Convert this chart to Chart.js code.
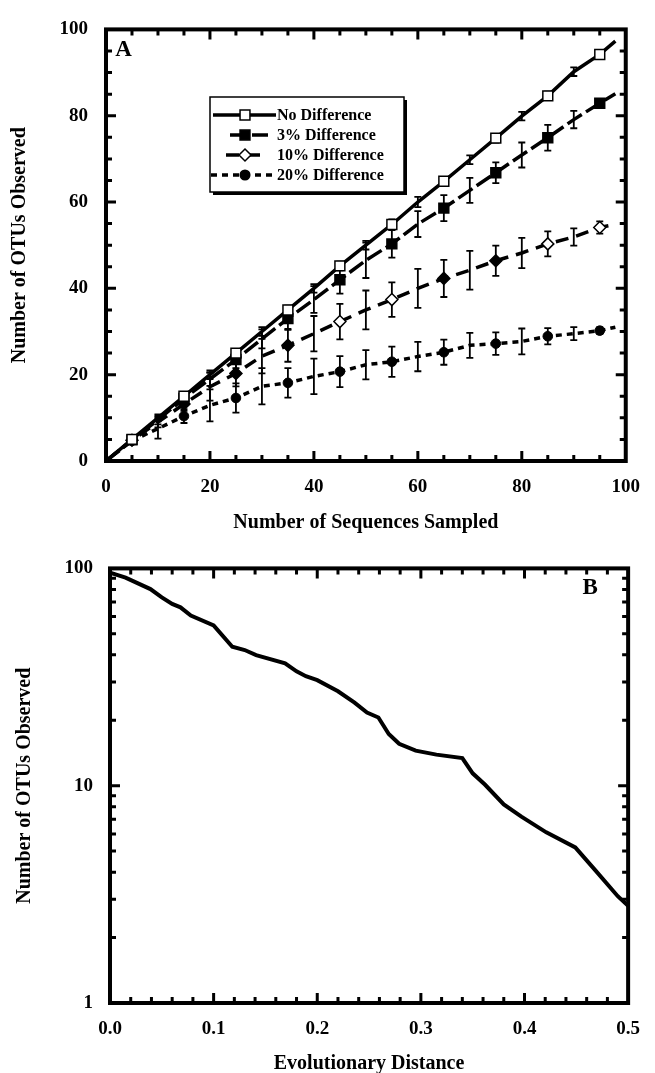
<!DOCTYPE html>
<html>
<head>
<meta charset="utf-8">
<title>OTUs observed</title>
<script src="https://cdn.jsdelivr.net/npm/chart.js@4.4.0/dist/chart.umd.min.js"></script>
<style>
    html, body { margin: 0; padding: 0; background: #fff; overflow: hidden; }
    canvas { display: block; position: absolute; left: 0; }
    #chartA { top: 0; }
    #chartB { top: 540px; }
</style>
</head>
<body>
<canvas id="chartA" width="655" height="540"></canvas>
<canvas id="chartB" width="655" height="550"></canvas>
<script>
// --- Panel A: OTUs vs. sequences sampled ---
const sampled = [0, 5, 10, 15, 20, 25, 30, 35, 40, 45, 50, 55, 60, 65, 70, 75, 80, 85, 90, 95, 98];

const noDiff    = [0, 5, 10, 15, 20, 25, 30, 35, 40, 45.2, 50, 54.8, 60, 64.8, 69.8, 74.8, 79.9, 84.6, 90.2, 94.2, 97.3];
const noDiffErr = [0, 0.5, 0.8, 0.8, 1, 1, 1, 1, 1, 1, 1, 1.2, 1.2, 1, 1, 1, 1, 1, 1, 0.8, 0];

const pct3      = [0, 4.9, 9.5, 14.5, 19, 23.5, 28.3, 33, 37.4, 42, 46.5, 50.3, 54.9, 58.6, 62.7, 66.8, 70.9, 74.9, 79.1, 82.9, 85.1];
const pct3Err   = [0, 0.6, 1, 1.2, 1.6, 2, 2.2, 2.6, 3.1, 3.2, 4.1, 3.2, 3, 3, 2.9, 2.4, 2.9, 3, 2, 1, 0];

const pct10     = [0, 4.8, 9, 13.2, 17.2, 20.3, 24.3, 26.8, 29.5, 32.3, 35, 37.4, 40, 42.3, 44.2, 46.4, 48.2, 50.3, 51.9, 54.1, 54.8];
const pct10Err  = [0, 0.6, 1.2, 1.6, 3.2, 3, 4, 3.8, 4.1, 4.1, 4.5, 4, 4.5, 4.3, 4.5, 3.5, 3.5, 2.9, 2, 1.4, 0];

const pct20     = [0, 4.7, 7.5, 10.4, 12.9, 14.6, 17.3, 18.1, 19.6, 20.7, 22.3, 23, 24.2, 25.2, 26.8, 27.2, 27.7, 28.9, 29.5, 30.2, 31];
const pct20Err  = [0, 0.6, 2.3, 1.6, 3.7, 3.4, 4.2, 3.4, 4.1, 3.6, 3.4, 3.5, 3.4, 2.9, 2.9, 2.6, 3, 1.9, 1.5, 0.8, 0];

// diamonds that print as solid in the figure
const pct10Solid = [5, 15, 25, 35, 65, 75];

const seriesLabels = ['No Difference', '3% Difference', '10% Difference', '20% Difference'];
const xTicksA = [0, 20, 40, 60, 80, 100];
const yTicksA = [0, 20, 40, 60, 80, 100];

// --- Panel B: OTUs vs. evolutionary distance ---
const distance = [0, 0.015, 0.039, 0.05, 0.06, 0.068, 0.078, 0.1, 0.118, 0.13, 0.141, 0.169, 0.18, 0.189, 0.2,
                  0.22, 0.236, 0.248, 0.259, 0.269, 0.279, 0.295, 0.315, 0.34, 0.35, 0.362, 0.38, 0.397,
                  0.421, 0.449, 0.468, 0.49, 0.5];
const otusB    = [95.6, 90.7, 80.3, 73.6, 68.6, 66.2, 60.7, 54.7, 43.6, 42.1, 39.9, 36.6, 33.6, 31.9, 30.6,
                  27.2, 24.1, 21.7, 20.6, 17.3, 15.6, 14.5, 13.9, 13.4, 11.4, 10.1, 8.2, 7.2,
                  6.1, 5.2, 4.1, 3.1, 2.8];
const yTicksB = [1, 10, 100];

const FONT = "'Liberation Serif', 'Times New Roman', Times, serif";
Chart.defaults.font.family = FONT;
Chart.defaults.font.weight = 'bold';
Chart.defaults.color = '#000';

// --- Helpers ---
const pts = (xs, ys) => xs.map((x, i) => ({ x: x, y: ys[i] }));
const isMarker = x => x % 10 === 5;

function drawMarker(ctx, style, x, y, r, fill) {
    ctx.beginPath();
    if (style === 'rect') {
        const s = r * Math.SQRT1_2;
        ctx.rect(x - s, y - s, 2 * s, 2 * s);
    } else if (style === 'rectRot') {
        ctx.moveTo(x, y - r); ctx.lineTo(x + r, y); ctx.lineTo(x, y + r); ctx.lineTo(x - r, y); ctx.closePath();
    } else {
        ctx.arc(x, y, r, 0, Math.PI * 2);
    }
    ctx.fillStyle = fill;
    ctx.fill();
    ctx.lineWidth = 1.5;
    ctx.strokeStyle = '#000';
    ctx.stroke();
}

// error bars under the markers
const errorBars = {
    id: 'errorBars',
    beforeDatasetsDraw(chart) {
        const { ctx, scales: { x, y } } = chart;
        ctx.save();
        ctx.strokeStyle = '#000';
        ctx.lineWidth = 1.8;
        chart.data.datasets.forEach(ds => {
            if (!ds.errors) return;
            ds.data.forEach((p, i) => {
                const e = ds.errors[i];
                if (!e) return;
                const px = x.getPixelForValue(p.x);
                const top = y.getPixelForValue(p.y + e);
                const bot = y.getPixelForValue(p.y - e);
                ctx.beginPath();
                ctx.moveTo(px, top); ctx.lineTo(px, bot);
                ctx.moveTo(px - 3.5, top); ctx.lineTo(px + 3.5, top);
                ctx.moveTo(px - 3.5, bot); ctx.lineTo(px + 3.5, bot);
                ctx.stroke();
            });
        });
        ctx.restore();
    }
};

// box frame with inward ticks on all four sides + panel letter
const frameTicks = {
    id: 'frameTicks',
    afterDatasetsDraw(chart, args, o) {
        const { ctx, chartArea: a, scales: { x, y } } = chart;
        ctx.save();
        ctx.strokeStyle = '#000';
        ctx.lineCap = 'butt';
        ctx.lineWidth = 3;
        const tick = (vals, len, horiz) => vals.forEach(v => {
            ctx.beginPath();
            if (horiz) {
                const px = x.getPixelForValue(v);
                ctx.moveTo(px, a.bottom); ctx.lineTo(px, a.bottom - len);
                ctx.moveTo(px, a.top); ctx.lineTo(px, a.top + len);
            } else {
                const py = y.getPixelForValue(v);
                ctx.moveTo(a.left, py); ctx.lineTo(a.left + len, py);
                ctx.moveTo(a.right, py); ctx.lineTo(a.right - len, py);
            }
            ctx.stroke();
        });
        tick(o.xMinor, 6, true);
        tick(o.xMajor, 10, true);
        tick(o.yMinor, 6, false);
        tick(o.yMajor, 10, false);

        ctx.lineWidth = 4;
        ctx.strokeRect(a.left, a.top, a.right - a.left, a.bottom - a.top);

        ctx.fillStyle = '#000';
        ctx.font = 'bold 23px ' + FONT;
        ctx.textAlign = 'center';
        ctx.textBaseline = 'middle';
        const lx = o.letterFromRight ? a.right - o.letterDx : a.left + o.letterDx;
        ctx.fillText(o.letter, lx, a.top + o.letterDy);
        ctx.restore();
    }
};

// boxed legend with drop shadow
const boxLegend = {
    id: 'boxLegend',
    afterDraw(chart, args, o) {
        if (!o.show) return;
        const ctx = chart.ctx;
        ctx.save();
        ctx.fillStyle = '#000';
        ctx.fillRect(o.x + 3, o.y + 3, o.w, o.h);
        ctx.fillStyle = '#fff';
        ctx.fillRect(o.x, o.y, o.w, o.h);
        ctx.lineWidth = 1.5;
        ctx.strokeStyle = '#000';
        ctx.strokeRect(o.x, o.y, o.w, o.h);

        chart.data.datasets.forEach((ds, i) => {
            const cy = o.y + o.firstRow + i * o.rowGap;
            ctx.strokeStyle = '#000';
            ctx.lineWidth = ds.borderWidth;
            ctx.setLineDash(ds.borderDash || []);
            ctx.beginPath();
            ctx.moveTo(ds.legendX0, cy);
            ctx.lineTo(ds.legendX1, cy);
            ctx.stroke();
            ctx.setLineDash([]);
            drawMarker(ctx, ds.pointStyle, o.symX, cy, ds.legendRadius, ds.legendFill);

            ctx.fillStyle = '#000';
            ctx.font = 'bold 16px ' + FONT;
            ctx.textAlign = 'left';
            ctx.textBaseline = 'middle';
            ctx.fillText(ds.label, o.textX, cy + 1);
        });
        ctx.restore();
    }
};

// tick positions for the frame
const aMinor = [], aMajor = [20, 40, 60, 80];
for (let v = 5; v < 100; v += 5) if (v % 20) aMinor.push(v);
const bxMinor = [], bxMajor = [0.1, 0.2, 0.3, 0.4];
for (let k = 1; k < 25; k++) if (k % 5) bxMinor.push(k * 0.02);
const byMinor = [2, 3, 4, 5, 6, 7, 8, 9, 20, 30, 40, 50, 60, 70, 80, 90];
const byMajor = [10];

// --- Chart A ---
const datasetsA = [
    {
        label: seriesLabels[0],
        data: pts(sampled, noDiff),
        errors: noDiffErr,
        borderColor: '#000', borderWidth: 3.5,
        pointStyle: 'rect',
        pointRadius: sampled.map(x => isMarker(x) ? 7 : 0),
        pointBackgroundColor: '#fff', pointBorderColor: '#000', pointBorderWidth: 1.5,
        legendRadius: 7, legendFill: '#fff', legendX0: 213, legendX1: 276
    },
    {
        label: seriesLabels[1],
        data: pts(sampled, pct3),
        errors: pct3Err,
        borderColor: '#000', borderWidth: 3.5, borderDash: [17, 5],
        pointStyle: 'rect',
        pointRadius: sampled.map(x => isMarker(x) ? 7 : 0),
        pointBackgroundColor: '#000', pointBorderColor: '#000', pointBorderWidth: 1.5,
        legendRadius: 7, legendFill: '#000', legendX0: 230, legendX1: 268
    },
    {
        label: seriesLabels[2],
        data: pts(sampled, pct10),
        errors: pct10Err,
        borderColor: '#000', borderWidth: 3.5, borderDash: [13, 8],
        pointStyle: 'rectRot',
        pointRadius: sampled.map(x => isMarker(x) ? 6 : 0),
        pointBackgroundColor: sampled.map(x => pct10Solid.includes(x) ? '#000' : '#fff'),
        pointBorderColor: '#000', pointBorderWidth: 1.5,
        legendRadius: 6, legendFill: '#fff', legendX0: 226, legendX1: 268
    },
    {
        label: seriesLabels[3],
        data: pts(sampled, pct20),
        errors: pct20Err,
        borderColor: '#000', borderWidth: 3.5, borderDash: [6, 5],
        pointStyle: 'circle',
        pointRadius: sampled.map(x => isMarker(x) ? 4.8 : 0),
        pointBackgroundColor: '#000', pointBorderColor: '#000', pointBorderWidth: 1,
        legendRadius: 4.8, legendFill: '#000', legendX0: 211, legendX1: 276
    }
];

new Chart(document.getElementById('chartA'), {
    type: 'line',
    data: { datasets: datasetsA },
    options: {
        responsive: false,
        animation: false,
        events: [],
        layout: { padding: { left: 0, right: 22, top: 21, bottom: 0 } },
        elements: { line: { tension: 0 } },
        plugins: {
            legend: { display: false },
            tooltip: { enabled: false },
            frameTicks: { xMinor: aMinor, xMajor: aMajor, yMinor: aMinor, yMajor: aMajor,
                          letter: 'A', letterDx: 17.5, letterDy: 20.5 },
            boxLegend: { show: true, x: 210, y: 97, w: 194, h: 95, firstRow: 18, rowGap: 20,
                         symX: 245, textX: 277 }
        },
        scales: {
            x: {
                type: 'linear', min: 0, max: 100,
                grid: { display: false, drawTicks: false }, border: { display: false },
                afterBuildTicks: s => { s.ticks = xTicksA.map(v => ({ value: v })); },
                ticks: { padding: 15, font: { size: 19 }, maxRotation: 0 },
                title: { display: true, text: 'Number of Sequences Sampled',
                         font: { size: 20, weight: 'bold' }, padding: { top: 0, bottom: 5 } },
                afterFit: s => { s.height = 79; }
            },
            y: {
                min: 0, max: 100,
                grid: { display: false, drawTicks: false }, border: { display: false },
                afterBuildTicks: s => { s.ticks = yTicksA.map(v => ({ value: v })); },
                ticks: { padding: 18, font: { size: 19 } },
                title: { display: true, text: 'Number of OTUs Observed',
                         font: { size: 20, weight: 'bold' }, padding: { top: 8, bottom: 0 } },
                afterFit: s => { s.width = 106; }
            }
        }
    },
    plugins: [errorBars, frameTicks, boxLegend]
});

// --- Chart B ---
new Chart(document.getElementById('chartB'), {
    type: 'line',
    data: {
        datasets: [{
            label: 'OTUs',
            data: pts(distance, otusB),
            borderColor: '#000', borderWidth: 4,
            pointRadius: 0, tension: 0
        }]
    },
    options: {
        responsive: false,
        animation: false,
        events: [],
        layout: { padding: { left: 0, right: 15, top: 24, bottom: 0 } },
        plugins: {
            legend: { display: false },
            tooltip: { enabled: false },
            frameTicks: { xMinor: bxMinor, xMajor: bxMajor, yMinor: byMinor, yMajor: byMajor,
                          letter: 'B', letterFromRight: true, letterDx: 38, letterDy: 20 },
            boxLegend: { show: false }
        },
        scales: {
            x: {
                type: 'linear', min: 0, max: 0.5,
                grid: { display: false, drawTicks: false }, border: { display: false },
                ticks: { stepSize: 0.1, padding: 15, font: { size: 19 }, maxRotation: 0,
                         callback: v => Number(v).toFixed(1) },
                title: { display: true, text: 'Evolutionary Distance',
                         font: { size: 20, weight: 'bold' }, padding: { top: 0, bottom: 14 } },
                afterFit: s => { s.height = 87; }
            },
            y: {
                type: 'logarithmic', min: 1, max: 100,
                grid: { display: false, drawTicks: false }, border: { display: false },
                afterBuildTicks: s => { s.ticks = yTicksB.map(v => ({ value: v })); },
                ticks: { padding: 17, font: { size: 19 }, callback: v => String(v) },
                title: { display: true, text: 'Number of OTUs Observed',
                         font: { size: 20, weight: 'bold' }, padding: { top: 13, bottom: 0 } },
                afterFit: s => { s.width = 110; }
            }
        }
    },
    plugins: [frameTicks, boxLegend]
});
</script>
</body>
</html>
